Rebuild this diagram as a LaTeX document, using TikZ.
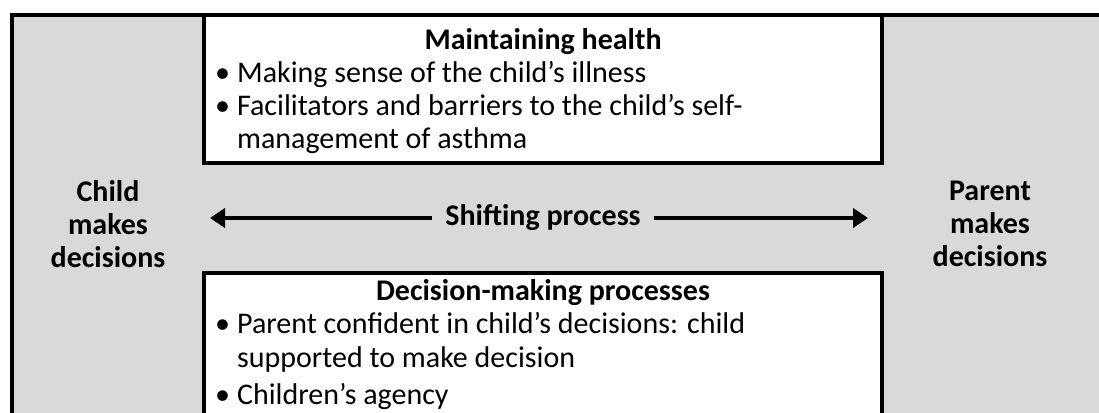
\documentclass[tikz,border=0pt]{standalone}
\usepackage{fontspec}
\setmainfont{Carlito}
\usepackage{xcolor}
\usepackage{tikz}
\usetikzlibrary{arrows.meta,positioning}

\definecolor{panelgray}{HTML}{D9D9D9}

\tikzset{
  boxline/.style={line width=4pt},
  txt/.style={font=\fontsize{30}{33}\selectfont, inner sep=0pt},
  headline/.style={txt, font=\fontsize{30}{33}\selectfont\bfseries, anchor=base},
  itemline/.style={txt, anchor=base west},
  sidelabel/.style={txt, font=\fontsize{30}{33}\selectfont\bfseries, align=center},
  shiftarrow/.style={line width=4pt, -{Triangle[length=15pt,width=19pt]}}
}

\newcommand{\bul}{\textbullet\hspace{7pt}}
\newcommand{\nobul}{\hphantom{\textbullet\hspace{7pt}}}

\begin{document}
\begin{tikzpicture}[x=1pt, y=-1pt]
\useasboundingbox (0,0) rectangle (1099,412);

% grey frame, open to the right and below
\fill[panelgray] (12,15) rectangle (1110,420);
\draw[boxline] (12,420) -- (12,15) -- (1110,15);

% the two white panels
\draw[boxline, fill=white] (204,15) rectangle (882,163);
\fill[white] (204,273) rectangle (882,420);
\draw[boxline] (204,420) -- (204,273) -- (882,273) -- (882,420);

% upper panel
\node[headline] (health) at (543,49) {Maintaining health};
\node[itemline] (sense) at (215,82) {\bul Making sense of the child’s illness};
\node[itemline] (facil) at (215,115) {\bul Facilitators and barriers to the child’s self-};
\node[itemline] (manage) at (215,148) {\nobul management of asthma};

% middle row
\node[sidelabel] (child) at (108,224) {Child\\makes\\decisions};
\node[sidelabel] (parent) at (990,224) {Parent\\makes\\decisions};
\node[txt, font=\fontsize{30}{33}\selectfont\bfseries, inner xsep=13pt] (shift) at (543,218) {Shifting process};
\coordinate (lefttip) at (210,218);
\coordinate (righttip) at (868,218);
\draw[shiftarrow] (shift.west) -- (lefttip);
\draw[shiftarrow] (shift.east) -- (righttip);

% lower panel
\node[headline] (decide) at (543,300) {Decision-making processes};
\node[itemline] (confid) at (215,333) {\bul Parent confident in child’s decisions: child};
\node[itemline] (support) at (215,367) {\nobul supported to make decision};
\node[itemline] (agency) at (215,404) {\bul Children’s agency};
\end{tikzpicture}
\end{document}
